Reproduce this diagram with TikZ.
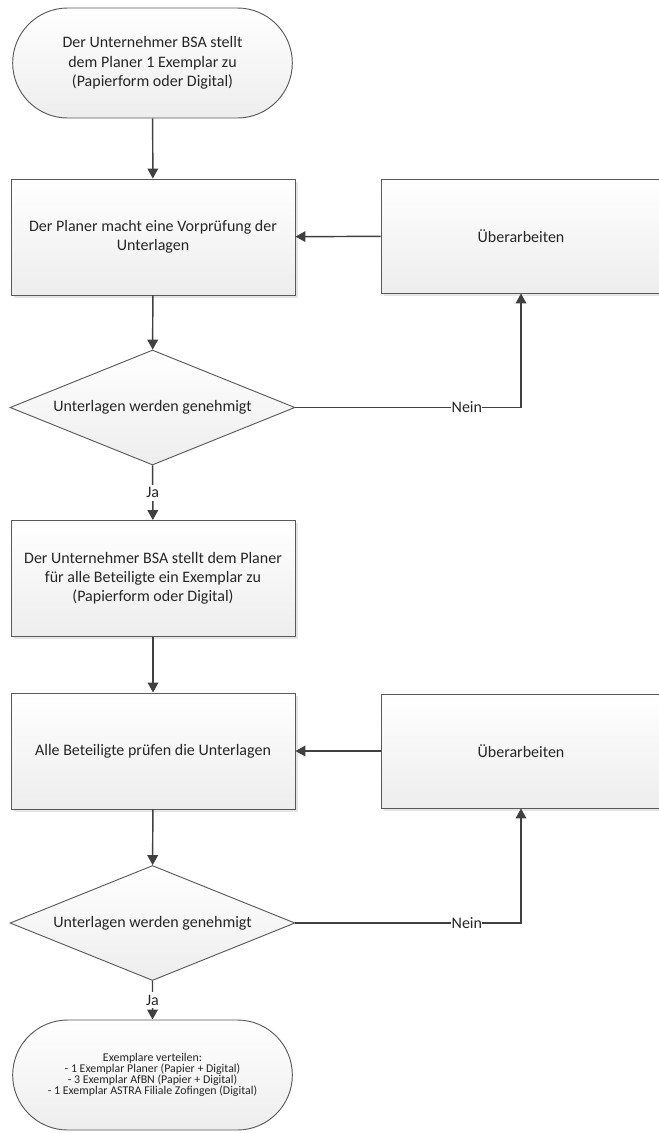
\documentclass[tikz,border=0pt]{standalone}
\usepackage{fontspec}
\setmainfont{Carlito}
\usepackage{tikz}
\usetikzlibrary{arrows.meta,shapes.geometric,shapes.misc,shadows}

\definecolor{rand}{HTML}{5A5A5A}
\definecolor{linie}{HTML}{404040}
\definecolor{schrift}{HTML}{262626}

\begin{document}
\begin{tikzpicture}[x=0.75pt,y=-0.75pt,>={Triangle[length=7.5pt,width=8pt]}]
\tikzstyle{base} = [draw=rand, line width=0.7pt, top color=white, bottom color=black!7,
    text=schrift, font=\fontsize{12}{14.4}\selectfont, align=center, inner sep=2pt]
\tikzstyle{terminal} = [base, rounded rectangle, minimum width=213.75pt, minimum height=82.5pt]
\tikzstyle{prozess} = [base, rectangle, minimum width=213pt, minimum height=87pt,
    drop shadow={shadow xshift=2pt, shadow yshift=-2pt, fill=black!10, opacity=1}]
\tikzstyle{rueck} = [prozess, minimum width=210pt, minimum height=85.5pt]
\tikzstyle{entscheid} = [base, diamond, aspect=2.48, inner sep=0pt, minimum width=213.75pt, minimum height=86.25pt]
\tikzstyle{pfeil} = [->, draw=linie, line width=1.1pt]
\tikzstyle{marke} = [fill=white, text=schrift, inner sep=0.3pt, font=\fontsize{12}{14.4}\selectfont]

\useasboundingbox (0,0) rectangle (659,1133);
\clip (0,0) rectangle (659,1133);

% Ablauf
\node[terminal] (start) at (152.5,63) {Der Unternehmer BSA stellt\\dem Planer 1 Exemplar zu\\(Papierform oder Digital)};
\node[prozess] (vorpruefung) at (153,237) {Der Planer macht eine Vorprüfung der\\Unterlagen};
\node[rueck] (ueberarb1) at (521,236) {Überarbeiten};
\node[entscheid] (genehmigt1) at (152.5,407.5) {Unterlagen werden genehmigt};
\node[prozess] (zustellen) at (153,578.5) {Der Unternehmer BSA stellt dem Planer\\für alle Beteiligte ein Exemplar zu\\(Papierform oder Digital)};
\node[prozess] (pruefen) at (153,751) {Alle Beteiligte prüfen die Unterlagen};
\node[rueck] (ueberarb2) at (521,751) {Überarbeiten};
\node[entscheid] (genehmigt2) at (152.5,923) {Unterlagen werden genehmigt};
\node[terminal, font=\fontsize{8.9}{8.4}\selectfont] (ende) at (152.5,1075)
    {Exemplare verteilen:\\- 1 Exemplar Planer (Papier + Digital)\\- 3 Exemplar AfBN (Papier + Digital)\\- 1 Exemplar ASTRA Filiale Zofingen (Digital)};

% Verbindungen
\draw[pfeil] (start) -- (vorpruefung);
\draw[pfeil] (ueberarb1) -- (vorpruefung);
\draw[pfeil] (vorpruefung) -- (genehmigt1);
\draw[pfeil] (genehmigt1.east) -| node[marke, pos=0.38] {Nein} (ueberarb1.south);
\draw[pfeil] (genehmigt1) -- node[marke, inner sep=2pt] {Ja} (zustellen);
\draw[pfeil] (zustellen) -- (pruefen);
\draw[pfeil] (ueberarb2) -- (pruefen);
\draw[pfeil] (pruefen) -- (genehmigt2);
\draw[pfeil] (genehmigt2.east) -| node[marke, pos=0.38] {Nein} (ueberarb2.south);
\draw[pfeil] (genehmigt2) -- node[marke, inner sep=2pt] {Ja} (ende);
\end{tikzpicture}
\end{document}
